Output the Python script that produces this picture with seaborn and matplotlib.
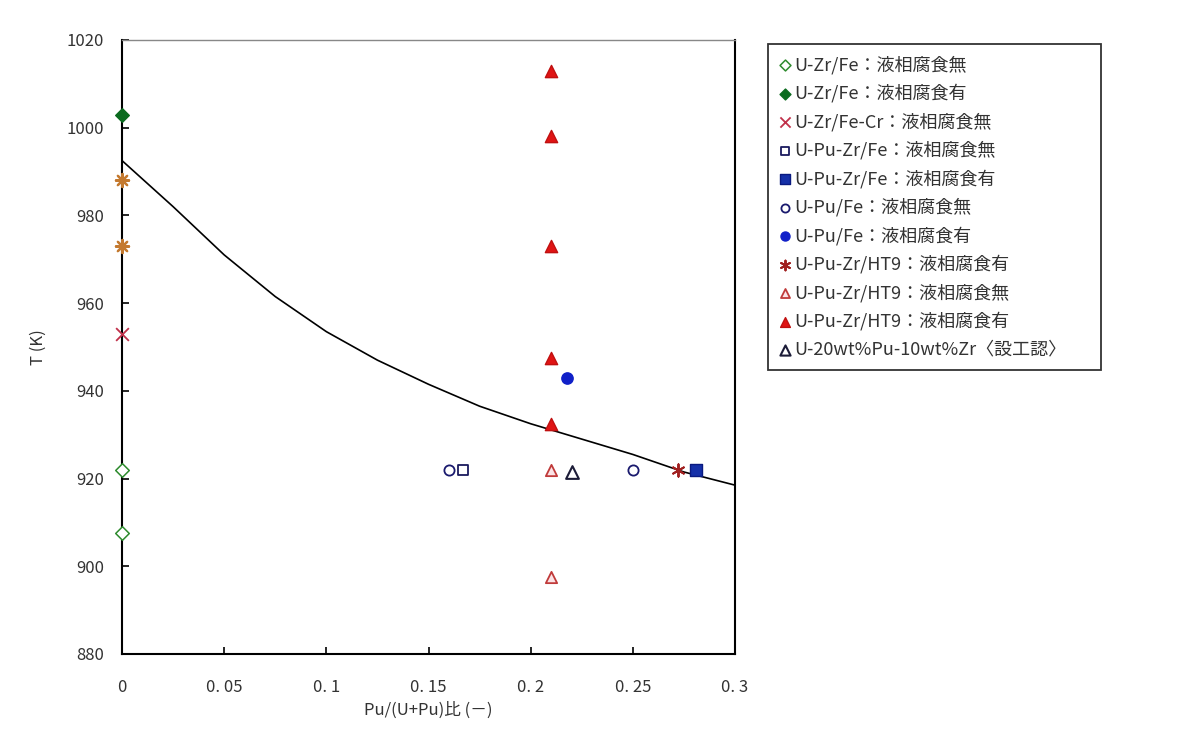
import matplotlib
matplotlib.use("Agg")
import matplotlib.pyplot as plt
import seaborn as sns
import numpy as np

# ---- data ----
curve_x = [0, 0.025, 0.05, 0.075, 0.1, 0.125, 0.15, 0.175, 0.2, 0.225, 0.25, 0.275, 0.3]
curve_y = [992.5, 982, 971, 961.5, 953.5, 947, 941.5, 936.5, 932.5, 929, 925.5, 921.5, 918.5]

uzr_fe_no_x = [0, 0]
uzr_fe_no_y = [922, 907.5]
uzr_fe_yes_x = [0]
uzr_fe_yes_y = [1003]
uzr_fecr_no_x = [0]
uzr_fecr_no_y = [953]
upuzr_fe_no_x = [0.167]
upuzr_fe_no_y = [922]
upuzr_fe_yes_x = [0.281]
upuzr_fe_yes_y = [922]
upu_fe_no_x = [0.16, 0.25]
upu_fe_no_y = [922, 922]
upu_fe_yes_x = [0.218]
upu_fe_yes_y = [943]
upuzr_ht9_ast_x = [0.272]
upuzr_ht9_ast_y = [922]
upuzr_ht9_no_x = [0.21, 0.21]
upuzr_ht9_no_y = [922, 897.5]
upuzr_ht9_yes_x = [0.21, 0.21, 0.21, 0.21, 0.21]
upuzr_ht9_yes_y = [1013, 998, 973, 947.5, 932.5]
design_x = [0.22]
design_y = [921.5]
extra_x = [0, 0]
extra_y = [988, 973]

labels = [
    "U-Zr/Fe：液相腐食無",
    "U-Zr/Fe：液相腐食有",
    "U-Zr/Fe-Cr：液相腐食無",
    "U-Pu-Zr/Fe：液相腐食無",
    "U-Pu-Zr/Fe：液相腐食有",
    "U-Pu/Fe：液相腐食無",
    "U-Pu/Fe：液相腐食有",
    "U-Pu-Zr/HT9：液相腐食有",
    "U-Pu-Zr/HT9：液相腐食無",
    "U-Pu-Zr/HT9：液相腐食有",
    "U-20wt%Pu-10wt%Zr〈設工認〉",
]
xticks = [0, 0.05, 0.1, 0.15, 0.2, 0.25, 0.3]
xticklabels = ["0", "0. 05", "0. 1", "0. 15", "0. 2", "0. 25", "0. 3"]
yticks = [880, 900, 920, 940, 960, 980, 1000, 1020]

sns.set_style("white")
plt.rcParams['font.family'] = ['Noto Sans CJK JP', 'DejaVu Sans']

fig = plt.figure(figsize=(11.79, 7.42), dpi=100)
ax = fig.add_axes([0.1035, 0.1186, 0.5199, 0.8275])

sns.lineplot(x=curve_x, y=curve_y, ax=ax, color="black", linewidth=1.2)

S = 60
kw = dict(ax=ax, zorder=5, clip_on=False)
sns.scatterplot(x=uzr_fe_no_x, y=uzr_fe_no_y, marker="D", s=S*0.8, fc="white", ec="#2e8b2e", linewidth=1.1, label=labels[0], **kw)
sns.scatterplot(x=uzr_fe_yes_x, y=uzr_fe_yes_y, marker="D", s=S*0.8, fc="#0b6b1f", ec="#0b6b1f", linewidth=1.0, label=labels[1], **kw)
sns.scatterplot(x=uzr_fecr_no_x, y=uzr_fecr_no_y, marker="x", s=S*1.4, color="#c0304a", linewidth=1.3, label=labels[2], **kw)
sns.scatterplot(x=upuzr_fe_no_x, y=upuzr_fe_no_y, marker="s", s=S*0.7, fc="white", ec="#1a1a5e", linewidth=1.3, label=labels[3], **kw)
sns.scatterplot(x=upuzr_fe_yes_x, y=upuzr_fe_yes_y, marker="s", s=S*1.2, fc="#1530a8", ec="#0a1a80", linewidth=1.0, label=labels[4], **kw)
sns.scatterplot(x=upu_fe_no_x, y=upu_fe_no_y, marker="o", s=S*0.9, fc="white", ec="#1a1a6e", linewidth=1.3, label=labels[5], **kw)
sns.scatterplot(x=upu_fe_yes_x, y=upu_fe_yes_y, marker="o", s=S*1.1, fc="#1020c8", ec="#1020c8", linewidth=1.0, label=labels[6], **kw)
sns.scatterplot(x=upuzr_ht9_ast_x, y=upuzr_ht9_ast_y, marker=(6, 2, 0), s=S*1.3, color="#a02020", linewidth=1.4, label=labels[7], **kw)
sns.scatterplot(x=upuzr_ht9_no_x, y=upuzr_ht9_no_y, marker="^", s=S*1.1, fc="#fbe3e6", ec="#c03a3a", linewidth=1.3, label=labels[8], **kw)
sns.scatterplot(x=upuzr_ht9_yes_x, y=upuzr_ht9_yes_y, marker="^", s=S*1.3, fc="#e01414", ec="#c01010", linewidth=1.0, label=labels[9], **kw)
sns.scatterplot(x=design_x, y=design_y, marker="^", s=S*1.4, fc="white", ec="#1c1c38", linewidth=1.5, label=labels[10], **kw)
sns.scatterplot(x=extra_x, y=extra_y, marker=(8, 2, 0), s=S*1.5, color="#c47a30", linewidth=1.6, **kw)

ax.set_xlim(0, 0.3)
ax.set_ylim(880, 1020)
ax.set_xticks(xticks)
ax.set_xticklabels(xticklabels)
ax.set_yticks(yticks)
ax.tick_params(axis="both", direction="in", length=5, width=1.2, colors="black",
               labelsize=12, top=False, right=False, left=True, bottom=True)
ax.tick_params(axis="x", pad=18)
ax.tick_params(axis="y", pad=13)
for t in ax.get_xticklabels() + ax.get_yticklabels():
    t.set_color("#333333")
for side in ["left", "bottom", "right"]:
    ax.spines[side].set_color("black")
    ax.spines[side].set_linewidth(1.5)
ax.spines["top"].set_color("#888888")
ax.spines["top"].set_linewidth(1.0)
ax.grid(False)

ax.set_xlabel("Pu/(U+Pu)比 (－)", fontsize=12, color="#333333", labelpad=4)
ax.set_ylabel("T (K)", fontsize=12, color="#333333", labelpad=14)

leg = ax.legend(loc="upper left", bbox_to_anchor=(0.651, 0.941, 0.283, 0.0), bbox_transform=fig.transFigure,
                mode="expand", frameon=True, fancybox=False, edgecolor="black", fontsize=13,
                handlelength=0.6, handletextpad=0.25, labelspacing=0.54,
                borderpad=0.65, borderaxespad=0, markerscale=0.8)
leg.get_frame().set_linewidth(1.3)
for t in leg.get_texts():
    t.set_color("#333333")

fig.savefig("out.png", dpi=100, facecolor="white")
